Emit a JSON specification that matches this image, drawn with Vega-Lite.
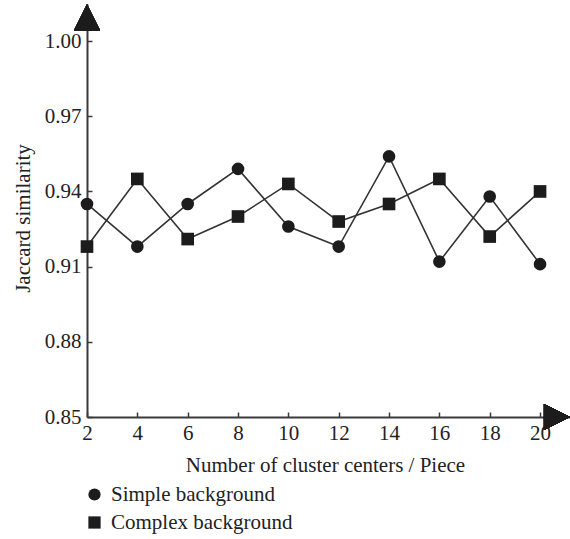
{
  "$schema": "https://vega.github.io/schema/vega-lite/v6.json",
  "width": 483,
  "height": 413,
  "autosize": {"type": "none"},
  "padding": {"left": 87, "top": 4, "right": 0, "bottom": 122},
  "background": "white",
  "config": {
    "view": {"stroke": null},
    "font": "Liberation Serif",
    "axis": {
      "grid": false,
      "domainColor": "#3a3a3a",
      "domainWidth": 2,
      "tickColor": "#3a3a3a",
      "tickSize": -5,
      "tickWidth": 1.5,
      "labelFont": "Liberation Serif",
      "labelFontSize": 21,
      "labelColor": "#222",
      "labelFlush": false,
      "titleFont": "Liberation Serif",
      "titleFontSize": 21,
      "titleFontWeight": "normal",
      "titleColor": "#222"
    },
    "legend": {
      "labelFont": "Liberation Serif",
      "labelFontSize": 21,
      "labelColor": "#222",
      "labelLimit": 400
    }
  },
  "data": {
    "values": [
      {"x": 2, "value": 0.935, "series": "Simple background"},
      {"x": 4, "value": 0.918, "series": "Simple background"},
      {"x": 6, "value": 0.935, "series": "Simple background"},
      {"x": 8, "value": 0.949, "series": "Simple background"},
      {"x": 10, "value": 0.926, "series": "Simple background"},
      {"x": 12, "value": 0.918, "series": "Simple background"},
      {"x": 14, "value": 0.954, "series": "Simple background"},
      {"x": 16, "value": 0.912, "series": "Simple background"},
      {"x": 18, "value": 0.938, "series": "Simple background"},
      {"x": 20, "value": 0.911, "series": "Simple background"},
      {"x": 2, "value": 0.918, "series": "Complex background"},
      {"x": 4, "value": 0.945, "series": "Complex background"},
      {"x": 6, "value": 0.921, "series": "Complex background"},
      {"x": 8, "value": 0.930, "series": "Complex background"},
      {"x": 10, "value": 0.943, "series": "Complex background"},
      {"x": 12, "value": 0.928, "series": "Complex background"},
      {"x": 14, "value": 0.935, "series": "Complex background"},
      {"x": 16, "value": 0.945, "series": "Complex background"},
      {"x": 18, "value": 0.922, "series": "Complex background"},
      {"x": 20, "value": 0.940, "series": "Complex background"}
    ]
  },
  "layer": [
    {
      "mark": {"type": "line", "color": "#333", "strokeWidth": 1.6},
      "encoding": {
        "x": {
          "field": "x", "type": "quantitative",
          "scale": {"domain": [2, 21.19], "nice": false, "zero": false},
          "axis": {
            "values": [2, 4, 6, 8, 10, 12, 14, 16, 18, 20],
            "title": "Number of cluster centers / Piece",
            "labelPadding": 10,
            "titleX": 238,
            "titleY": 54,
            "titleBaseline": "alphabetic",
            "titleAnchor": "middle"
          }
        },
        "y": {
          "field": "value", "type": "quantitative",
          "scale": {"domain": [0.85, 1.0148], "nice": false, "zero": false},
          "axis": {
            "values": [0.85, 0.88, 0.91, 0.94, 0.97, 1.0],
            "format": ".2f",
            "title": "Jaccard similarity",
            "labelPadding": 11,
            "titleX": -64,
            "titleY": 214,
            "titleAngle": -90,
            "titleBaseline": "middle",
            "titleAnchor": "middle"
          }
        },
        "detail": {"field": "series"}
      }
    },
    {
      "mark": {"type": "point", "filled": true, "color": "#1c1c1c", "opacity": 1, "size": 160},
      "encoding": {
        "x": {"field": "x", "type": "quantitative"},
        "y": {"field": "value", "type": "quantitative"},
        "shape": {
          "field": "series", "type": "nominal",
          "scale": {"domain": ["Simple background", "Complex background"], "range": ["circle", "square"]},
          "legend": {
            "title": null,
            "orient": "none",
            "legendX": -3,
            "legendY": 480,
            "padding": 0,
            "symbolSize": 150,
            "symbolFillColor": "#1c1c1c",
            "symbolStrokeColor": "#1c1c1c",
            "symbolStrokeWidth": 0,
            "symbolOpacity": 1,
            "labelOffset": 6,
            "rowPadding": 6
          }
        }
      }
    },
    {
      "mark": {"type": "point", "shape": "M-1,1L1,1L0,-1Z", "filled": true, "size": 676, "color": "#1c1c1c", "opacity": 1},
      "encoding": {
        "x": {"datum": 2, "type": "quantitative"},
        "y": {"datum": 1.0094, "type": "quantitative"}
      }
    },
    {
      "mark": {"type": "point", "shape": "M-1,-1L1,0L-1,1Z", "filled": true, "size": 676, "color": "#1c1c1c", "opacity": 1},
      "encoding": {
        "x": {"datum": 20.67, "type": "quantitative"},
        "y": {"datum": 0.85, "type": "quantitative"}
      }
    }
  ]
}
